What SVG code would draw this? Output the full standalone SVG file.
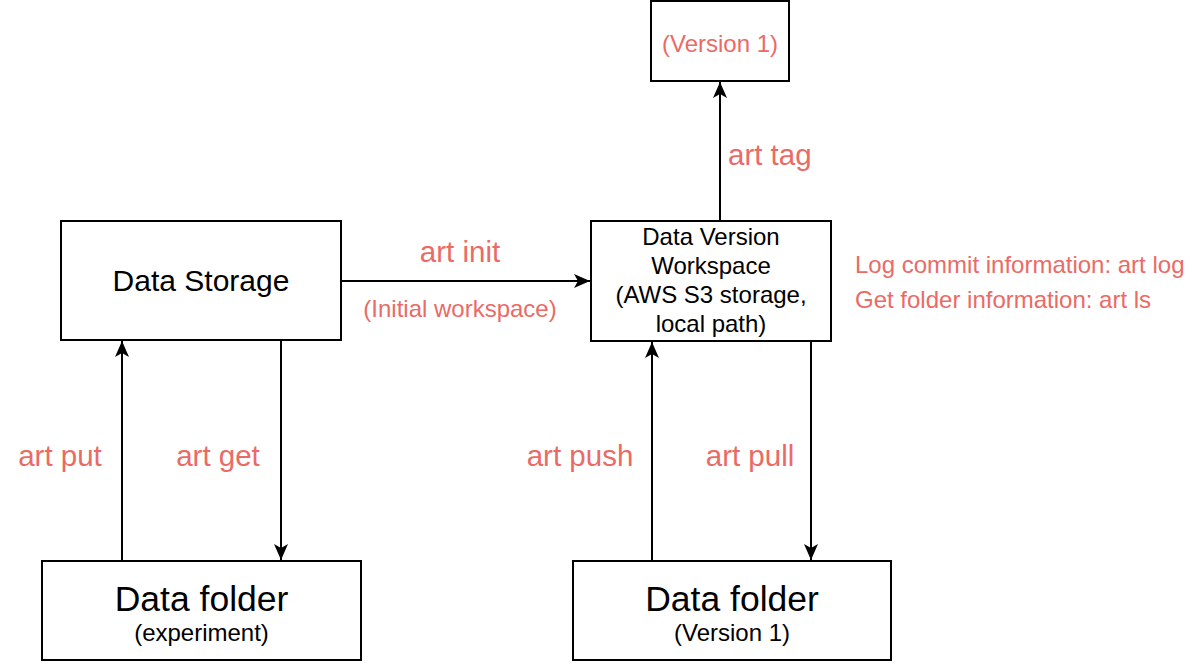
<svg xmlns="http://www.w3.org/2000/svg" width="1192" height="664" viewBox="0 0 1192 664">
<style>
.box{fill:#fff;stroke:#000;stroke-width:2}
.t{font-family:"Liberation Sans",Arial,Helvetica,sans-serif;fill:#000;text-anchor:middle}
.r{font-family:"Liberation Sans",Arial,Helvetica,sans-serif;fill:#EA6B66}
.c{text-anchor:middle}
.e{fill:none;stroke:#000;stroke-width:2}
</style>
<defs>
<marker id="arr" markerUnits="userSpaceOnUse" markerWidth="18" markerHeight="16" refX="16" refY="7" orient="auto">
<path d="M0,0 L16,7 L0,14 L4,7 Z" fill="#000"/>
</marker>
</defs>
<rect width="1192" height="664" fill="#fff"/>
<g id="connectors">
<path class="e" d="M341,281 L590,281" marker-end="url(#arr)"/>
<path class="e" d="M720,221 L720,82" marker-end="url(#arr)"/>
<path class="e" d="M122,561 L122,341" marker-end="url(#arr)"/>
<path class="e" d="M281,341 L281,560" marker-end="url(#arr)"/>
<path class="e" d="M652,561 L652,342" marker-end="url(#arr)"/>
<path class="e" d="M811,341 L811,560" marker-end="url(#arr)"/>
</g>
<g id="edge-labels">
<text class="r c" x="460" y="262" font-size="29.5">art init</text>
<text class="r c" x="460" y="317" font-size="24">(Initial workspace)</text>
<text class="r" x="728" y="165" font-size="29.5">art tag</text>
<text class="r c" x="60" y="466" font-size="29.5">art put</text>
<text class="r c" x="218" y="466" font-size="29.5">art get</text>
<text class="r c" x="580" y="466" font-size="29.5">art push</text>
<text class="r c" x="750" y="466" font-size="29.5">art pull</text>
</g>
<g id="version-tag">
<rect class="box" x="651" y="1" width="138" height="80"/>
<text class="r c" x="720" y="52" font-size="24">(Version 1)</text>
</g>
<g id="data-storage">
<rect class="box" x="61" y="221" width="280" height="119"/>
<text class="t" x="201" y="291" font-size="30">Data Storage</text>
</g>
<g id="workspace">
<rect class="box" x="591" y="221" width="240" height="120"/>
<text class="t" x="711" y="245" font-size="24">Data Version</text>
<text class="t" x="711" y="274" font-size="24">Workspace</text>
<text class="t" x="711" y="303" font-size="24">(AWS S3 storage,</text>
<text class="t" x="711" y="332" font-size="24">local path)</text>
</g>
<g id="info-notes">
<text class="r" x="855" y="273" font-size="24">Log commit information: art log</text>
<text class="r" x="855" y="308" font-size="24">Get folder information: art ls</text>
</g>
<g id="data-folder-experiment">
<rect class="box" x="42" y="561" width="319" height="99"/>
<text class="t" x="201.5" y="611" font-size="35.5">Data folder</text>
<text class="t" x="201.5" y="641" font-size="24">(experiment)</text>
</g>
<g id="data-folder-version">
<rect class="box" x="573" y="561" width="318" height="99"/>
<text class="t" x="732" y="611" font-size="35.5">Data folder</text>
<text class="t" x="732" y="641" font-size="24">(Version 1)</text>
</g>
</svg>
